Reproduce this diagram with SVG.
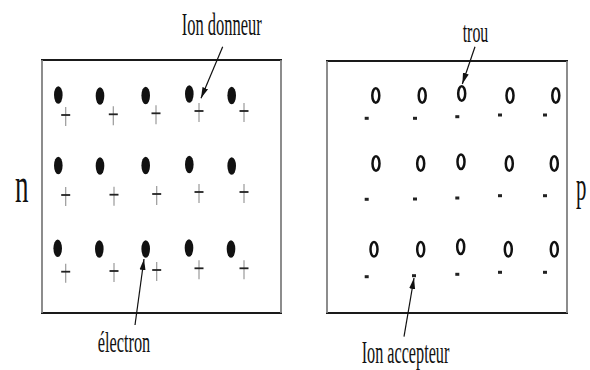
<svg xmlns="http://www.w3.org/2000/svg" width="590" height="370" viewBox="0 0 590 370">
  <style>
    .edge-h { stroke: #1a1a1a; stroke-width: 2.2; }
    .edge-v { stroke: #808080; stroke-width: 1.8; }
    .electron { fill: #111; }
    .hole { fill: none; stroke: #111; stroke-width: 2.5; }
    .plus-h { stroke: #222; stroke-width: 1.8; }
    .plus-v { stroke: #999; stroke-width: 1.2; }
    .minus { fill: #222; }
    .lbl { font-family: "Liberation Serif", "Times New Roman", serif; fill: #111; }
    .arrow { stroke: #111; stroke-width: 1.2; fill: none; marker-end: url(#tip); }
  </style>
  <defs>
    <marker id="tip" markerUnits="userSpaceOnUse" markerWidth="12" markerHeight="8" refX="11" refY="4" orient="auto">
      <path d="M0,1 L11,4 L0,7 Z" fill="#111"/>
    </marker>
    <ellipse id="e" class="electron" rx="4.3" ry="8.7"/>
    <ellipse id="h" class="hole" rx="3.5" ry="7.3"/>
    <g id="plus">
      <line class="plus-v" x1="0" y1="-8" x2="0" y2="11"/>
      <line class="plus-h" x1="-4.5" y1="0" x2="4.5" y2="0"/>
    </g>
    <rect id="m" class="minus" x="-2" y="-1.5" width="4" height="3"/>
  </defs>

  <!-- n-type block: electrons with fixed donor ions -->
  <g id="n-block">
    <line class="edge-h" x1="41" y1="60" x2="282" y2="60"/>
    <line class="edge-h" x1="41" y1="313" x2="282" y2="313"/>
    <line class="edge-v" x1="42" y1="60" x2="42" y2="313"/>
    <line class="edge-v" x1="281" y1="60" x2="281" y2="313"/>

    <use href="#e" x="58.3" y="95"/>
    <use href="#e" x="100" y="96"/>
    <use href="#e" x="145.7" y="95.5"/>
    <use href="#e" x="189.3" y="94"/>
    <use href="#e" x="231.7" y="95.5"/>

    <use href="#e" x="58.3" y="165.5"/>
    <use href="#e" x="100" y="166"/>
    <use href="#e" x="145.7" y="165.5"/>
    <use href="#e" x="189.3" y="164.5"/>
    <use href="#e" x="231.7" y="166"/>

    <use href="#e" x="57.7" y="248.3"/>
    <use href="#e" x="99.3" y="249"/>
    <use href="#e" x="145.7" y="249"/>
    <use href="#e" x="189" y="248"/>
    <use href="#e" x="231" y="249"/>

    <use href="#plus" x="65.7" y="115"/>
    <use href="#plus" x="113.3" y="114.3"/>
    <use href="#plus" x="156" y="113.3"/>
    <use href="#plus" x="199" y="111"/>
    <use href="#plus" x="244" y="111"/>

    <use href="#plus" x="65.7" y="195"/>
    <use href="#plus" x="114" y="194.7"/>
    <use href="#plus" x="156.7" y="194"/>
    <use href="#plus" x="199" y="192"/>
    <use href="#plus" x="244" y="192"/>

    <use href="#plus" x="65.7" y="271.7"/>
    <use href="#plus" x="114" y="271"/>
    <use href="#plus" x="156.7" y="270"/>
    <use href="#plus" x="199" y="268.3"/>
    <use href="#plus" x="244" y="268.3"/>
  </g>

  <!-- p-type block: holes with fixed acceptor ions -->
  <g id="p-block">
    <line class="edge-h" x1="326" y1="61" x2="568" y2="61"/>
    <line class="edge-h" x1="326" y1="313" x2="568" y2="313"/>
    <line class="edge-v" x1="327" y1="61" x2="327" y2="313"/>
    <line class="edge-v" x1="567" y1="61" x2="567" y2="313"/>

    <use href="#h" x="375.8" y="95.5"/>
    <use href="#h" x="422.2" y="95.5"/>
    <use href="#h" x="461.7" y="93.5"/>
    <use href="#h" x="510" y="95.5"/>
    <use href="#h" x="555.8" y="95.5"/>

    <use href="#h" x="376" y="163.5"/>
    <use href="#h" x="420.7" y="163.5"/>
    <use href="#h" x="461" y="161.7"/>
    <use href="#h" x="509.3" y="163.5"/>
    <use href="#h" x="554.3" y="163.5"/>

    <use href="#h" x="374" y="249.3"/>
    <use href="#h" x="420.7" y="249.3"/>
    <use href="#h" x="460.7" y="246.7"/>
    <use href="#h" x="508.3" y="249.3"/>
    <use href="#h" x="554.3" y="249.3"/>

    <use href="#m" x="366.7" y="118.3"/>
    <use href="#m" x="415" y="118.3"/>
    <use href="#m" x="457.3" y="116.7"/>
    <use href="#m" x="500" y="115"/>
    <use href="#m" x="545" y="115"/>

    <use href="#m" x="366.7" y="199.3"/>
    <use href="#m" x="415" y="199"/>
    <use href="#m" x="457.3" y="198"/>
    <use href="#m" x="500" y="195.7"/>
    <use href="#m" x="545" y="195.7"/>

    <use href="#m" x="366.7" y="276.7"/>
    <use href="#m" x="414" y="275.7"/>
    <use href="#m" x="457.3" y="274.3"/>
    <use href="#m" x="500" y="272.3"/>
    <use href="#m" x="545" y="272.3"/>
  </g>

  <!-- side letters, narrowed horizontally -->
  <g id="label-n">
    <text class="lbl" font-size="50" transform="translate(15,201.5) scale(0.54,1)">n</text>
  </g>
  <g id="label-p">
    <text class="lbl" font-size="40" transform="translate(576,200) scale(0.52,1)">p</text>
  </g>

  <!-- callout labels -->
  <g id="label-donneur">
    <text class="lbl" x="181.7" y="35" font-size="31" textLength="80" lengthAdjust="spacingAndGlyphs">Ion donneur</text>
  </g>
  <g id="label-electron">
    <text class="lbl" x="97.7" y="351.7" font-size="30" textLength="52.5" lengthAdjust="spacingAndGlyphs">électron</text>
  </g>
  <g id="label-trou">
    <text class="lbl" x="462.7" y="41.7" font-size="30" textLength="25.6" lengthAdjust="spacingAndGlyphs">trou</text>
  </g>
  <g id="label-accepteur">
    <text class="lbl" x="361.7" y="363" font-size="32" textLength="87.6" lengthAdjust="spacingAndGlyphs">Ion accepteur</text>
  </g>

  <!-- pointer arrows -->
  <g id="connectors">
    <line class="arrow" x1="222.7" y1="46.7" x2="201" y2="98.3"/>
    <line class="arrow" x1="135" y1="325" x2="144" y2="259"/>
    <line class="arrow" x1="475" y1="46.7" x2="462.3" y2="84"/>
    <line class="arrow" x1="404" y1="336.7" x2="414" y2="278"/>
  </g>
</svg>
